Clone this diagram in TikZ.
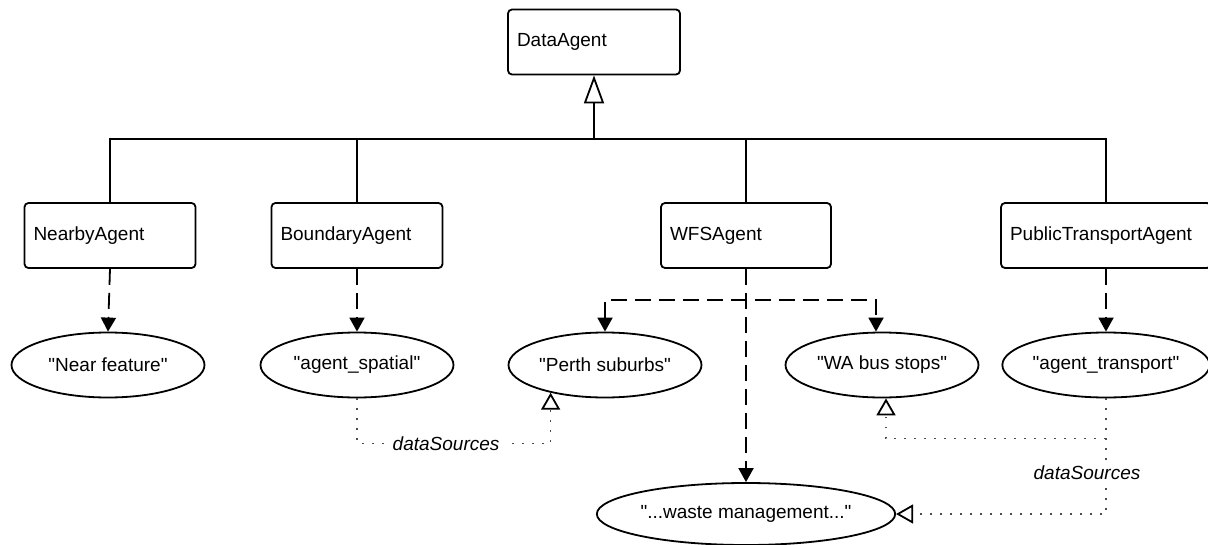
\documentclass[tikz,border=0pt]{standalone}
\usepackage{fontspec}
\setmainfont{Liberation Sans}
\usetikzlibrary{arrows.meta,shapes.geometric}

\begin{document}
\begin{tikzpicture}[x=0.5pt, y=-0.5pt,
	font=\fontsize{9.5}{11}\selectfont,
	agent/.style={draw, line width=0.9pt, rounded corners=2pt, minimum height=32.5pt, inner xsep=4.5pt, text width=#1, align=left},
	source/.style={draw, ellipse, line width=0.9pt, minimum width=96.5pt, minimum height=32.5pt, inner sep=0pt},
	tree/.style={line width=0.9pt},
	inherit/.style={line width=0.9pt, -{Triangle[open, length=14pt, width=10pt]}},
	dep/.style={line width=0.9pt, dash pattern=on 8pt off 4pt, >={Triangle[length=7pt, width=7.5pt]}, ->},
	src/.style={line width=0.8pt, black!70, dash pattern=on 0.8pt off 4.2pt, -{Triangle[open, length=8.5pt, width=9.5pt, line width=0.9pt, color=black]}},
	srclabel/.style={fill=white, text=black, inner sep=3pt, font=\fontsize{9.5}{11}\selectfont\itshape}]
			%%%%% START %%%%%
			
			\useasboundingbox (0,0) rectangle (1208,545);
			
			\node[agent=77pt] (data) at (594,42) {DataAgent};
			
			\node[agent=76.5pt] (nearby) at (110,235.5) {NearbyAgent};
			\node[agent=76.5pt] (boundary) at (357,235.5) {BoundaryAgent};
			\node[agent=76pt] (wfs) at (746,235.5) {WFSAgent};
			\node[agent=96pt] (pta) at (1106,235.5) {PublicTransportAgent};
			
			\node[source] (nearF) at (108,365) {\textquotedbl Near feature\textquotedbl};
			\node[source] (spatial) at (357,365) {\textquotedbl agent\_spatial\textquotedbl};
			\node[source] (perth) at (605,365) {\textquotedbl Perth suburbs\textquotedbl};
			\node[source] (bus) at (882,365) {\textquotedbl WA bus stops\textquotedbl};
			\node[source] (transport) at (1106,365) {\textquotedbl agent\_transport\textquotedbl};
			\node[source, minimum width=140.5pt, minimum height=31pt] (waste) at (746,514) {\textquotedbl...waste management...\textquotedbl};
			
			\coordinate (trunk) at (594,139);
			\draw[inherit] (trunk) -- (data.south);
			\draw[tree] (nearby.north) |- (trunk) -| (pta.north);
			\draw[tree] (boundary.north) -- (boundary.north |- trunk);
			\draw[tree] (wfs.north) -- (wfs.north |- trunk);
			
			\draw[dep] (nearby.south) -- (nearF.north);
			\draw[dep] (boundary.south) -- (spatial.north);
			\draw[dep] (pta.south) -- (transport.north);
			\draw[dep] (wfs.south) -- (waste.north);
			
			\coordinate (split) at (746,300);
			\draw[dep, <->] (perth.north) |- (split) -| ([xshift=-3pt]bus.north);
			
			\draw[src] (spatial.south) -- ++(0,45) -| node[srclabel, pos=0.23] {dataSources} (perth.-153);
			\draw[src] (transport.south) -- ++(0,40) coordinate (srcjoin) -| ([xshift=2pt]bus.south);
			\draw[src] (srcjoin) |- node[srclabel, pos=0.23, xshift=-9.5pt] {dataSources} (waste.east);
			
			%%%%% END %%%%%
\end{tikzpicture}
\end{document}
